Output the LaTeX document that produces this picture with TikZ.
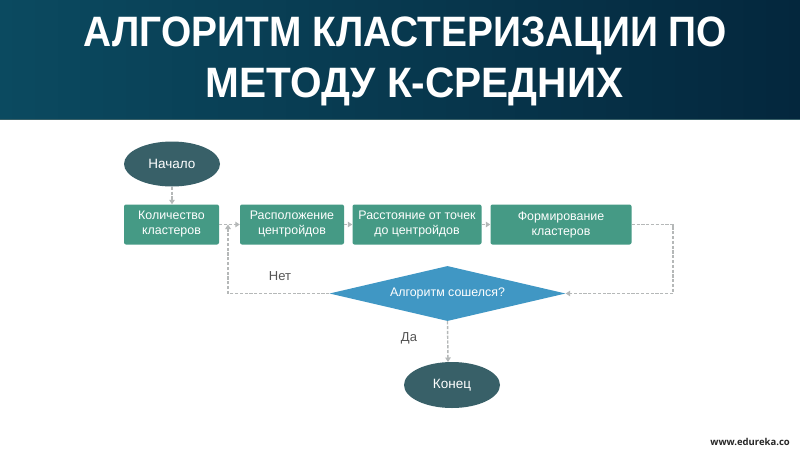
\documentclass[tikz,border=0pt]{standalone}
\usepackage{fontspec}
\setmainfont{Liberation Sans}
\newfontfamily\labelfont{Liberation Sans}
\newfontfamily\webfont{Open Sans}
\usetikzlibrary{shapes.geometric,arrows.meta}
\definecolor{barL}{HTML}{0B4A60}
\definecolor{barR}{HTML}{04273D}
\definecolor{boxG}{HTML}{459A85}
\definecolor{ovalD}{HTML}{386068}
\definecolor{diaB}{HTML}{4097C4}
\definecolor{lineG}{HTML}{B5B8B8}
\definecolor{txtG}{HTML}{555555}
\tikzset{
  x=1pt,y=-1pt,
  stepbox/.style={draw=none,fill=boxG,rounded corners=2pt,minimum height=40pt,inner sep=0pt,text=white,align=center,font=\labelfont\fontsize{12.4}{15}\selectfont},
  oval/.style={ellipse,fill=ovalD,minimum width=96pt,minimum height=45pt,inner sep=0pt,text=white,font=\labelfont\fontsize{13.5}{15}\selectfont},
  conn/.style={draw=lineG,line width=1.4pt,dash pattern=on 3.2pt off 1.6pt,-{Triangle[length=4.5pt,width=5.5pt]}},
  lab/.style={text=txtG,font=\labelfont\fontsize{13}{14}\selectfont},
  titletext/.style={text=white,font=\bfseries\fontsize{42.5}{52}\selectfont,inner sep=0pt}
}
\begin{document}
\begin{tikzpicture}
\useasboundingbox (0,0) rectangle (800,450);
\fill[white] (0,0) rectangle (800,450);
\shade[left color=barL,right color=barR,shading angle=90] (0,0) rectangle (800,119);
\fill[ovalD] (0,118.5) rectangle (800,119.5);
\node[titletext,xscale=0.915] (title1) at (405.5,36) {АЛГОРИТМ КЛАСТЕРИЗАЦИИ ПО};
\node[titletext,xscale=0.955] (title2) at (414.5,86.5) {МЕТОДУ К-СРЕДНИХ};
\node[oval] (start) at (172,164) {Начало};
\node[stepbox,minimum width=95pt] (b1) at (171.5,224.5) {Количество\\кластеров};
\node[stepbox,minimum width=104pt] (b2) at (292,224.5) {Расположение\\центройдов};
\node[stepbox,minimum width=129pt] (b3) at (417,224.5) {Расстояние от точек\\до центройдов};
\node[stepbox,minimum width=141pt] (b4) at (561,224.5) {Формирование\\кластеров};
\node[diamond,aspect=4.35,fill=diaB,minimum width=236pt,minimum height=55pt,inner sep=0pt,text=white,font=\labelfont\fontsize{12.4}{14}\selectfont] (dec) at (447.5,293.5) {Алгоритм сошелся?};
\node[oval,minimum height=46pt] (end) at (452,385) {Конец};
\node[lab] (no) at (280,276) {Нет};
\node[lab] (yes) at (409,338.5) {Да};
\node[text=black!85,font=\webfont\fontsize{9.5}{12}\selectfont\bfseries,anchor=east,inner sep=0pt] (web) at (790,442) {www.edureka.co};
\coordinate (jn) at (228,224.5);
\coordinate (lc) at (228,293.5);
\coordinate (rt) at (673,224.5);
\coordinate (rb) at (673,293.5);
\coordinate (endtop) at (448,362);
\draw[conn] (start) -- (start.south |- b1.north);
\draw[conn] (b1) -- (b2);
\draw[conn] (b2) -- (b3);
\draw[conn] (b3) -- (b4);
\draw[conn] (b4) -- (rt) -- (rb) -- (dec.east);
\draw[conn] (dec.west) -- (lc) -- (jn);
\draw[conn] (dec.south) -- (endtop);
\end{tikzpicture}
\end{document}
